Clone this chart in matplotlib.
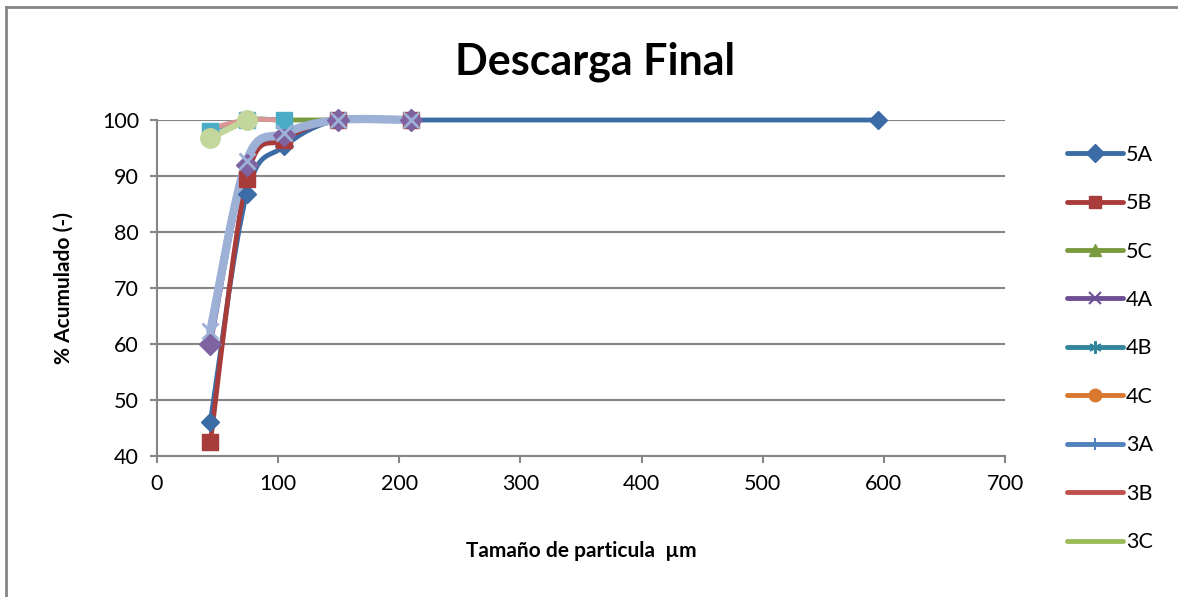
import matplotlib
matplotlib.use("Agg")
import matplotlib.pyplot as plt
from matplotlib.path import Path
from matplotlib.patches import PathPatch
from matplotlib.lines import Line2D

plt.rcParams['font.family'] = ['Lato', 'DejaVu Sans']

tamano = [44, 74, 105, 149, 210, 595]

s5A = [46, 86.8, 95.3, 100, 100, 100]
s5B = [42.5, 89.5, 96.5, 100, 100]
s5C = [97.8, 100, 100, 100]
s4A = [60, 92, 97.3, 100, 100]
s4B = [98, 100, 100]
s4C = [97, 100]
s3A = [62.3, 92.7, 97.6, 100, 100]
s3B = [98.5, 100, 100]
s3C = [96.8, 100]

nombres = ['5A', '5B', '5C', '4A', '4B', '4C', '3A', '3B', '3C']
series = [s5A, s5B, s5C, s4A, s4B, s4C, s3A, s3B, s3C]
colores = ['#3C6CA6', '#A83C3A', '#7A9A3E', '#6E4E94', '#31869C', '#D9782F',
           '#4F81BD', '#C0504D', '#9BBB59']
# color en el grafico (algunas series usan tonos mas claros)
col_plot = ['#3C6CA6', '#A83C3A', '#7A9A3E', '#7F63A1', '#4BACC6', '#F79646',
            '#9DB0D6', '#D99694', '#C3D69B']
mark_plot = ['D', 's', '^', 'D', 's', 'o', 'x', None, 'o']
mark_leg = ['D', 's', '^', 'x', (6, 2, 0), 'o', '|', None, None]
anchos = [3.5, 3.5, 3.5, 3.5, 3.5, 3.5, 6.0, 3.5, 4.5]
tam_m = [9, 11, 9, 11, 11, 12, 11, 0, 14]


def curva(xs, ys):
    # curva suave tipo Excel (Catmull-Rom a Bezier)
    pts = list(zip(xs, ys))
    verts = [pts[0]]
    codes = [Path.MOVETO]
    n = len(pts)
    for i in range(n - 1):
        p0 = pts[i - 1] if i > 0 else pts[i]
        p1 = pts[i]
        p2 = pts[i + 1]
        p3 = pts[i + 2] if i + 2 < n else pts[i + 1]
        c1 = (p1[0] + (p2[0] - p0[0]) / 6, p1[1] + (p2[1] - p0[1]) / 6)
        c2 = (p2[0] - (p3[0] - p1[0]) / 6, p2[1] - (p3[1] - p1[1]) / 6)
        verts += [c1, c2, p2]
        codes += [Path.CURVE4] * 3
    return Path(verts, codes)


fig = plt.figure(figsize=(11.78, 5.97), dpi=100)
ax = fig.add_axes([0.1333, 0.236, 0.7199, 0.563])

ax.yaxis.grid(True, color='#868686', linewidth=1.5)
ax.set_axisbelow(True)

for k in range(len(series)):
    xs = tamano[:len(series[k])]
    ys = series[k]
    ax.add_patch(PathPatch(curva(xs, ys), facecolor='none',
                           edgecolor=col_plot[k], linewidth=anchos[k],
                           capstyle='round', joinstyle='round', zorder=3,
                           clip_on=False))
    if mark_plot[k] is not None:
        ax.plot(xs, ys, linestyle='none', marker=mark_plot[k],
                markersize=tam_m[k], color=col_plot[k], clip_on=False,
                markeredgewidth=2 if mark_plot[k] == 'x' else 1, zorder=4)

ax.set_xlim(0, 700)
ax.set_ylim(40, 100)
ax.set_xticks(range(0, 701, 100))
ax.set_yticks(range(40, 101, 10))
ax.tick_params(labelsize=15.5, color='#868686', length=5, width=1.5, pad=8)
for lado in ['top', 'right']:
    ax.spines[lado].set_visible(False)
for lado in ['left', 'bottom']:
    ax.spines[lado].set_color('#868686')
    ax.spines[lado].set_linewidth(1.5)

fig.text(0.505, 0.897, 'Descarga Final', fontsize=31, fontweight='bold',
         ha='center', va='center')
ax.set_xlabel('Tamaño de particula  µm', fontsize=15, fontweight='bold', labelpad=34)
ax.set_ylabel('% Acumulado (-)', fontsize=15, fontweight='bold', labelpad=20)

handles = []
for k in range(len(nombres)):
    handles.append(Line2D([], [], color=colores[k], linewidth=3.5,
                          marker=mark_leg[k], markersize=9 if k != 3 else 8,
                          markeredgewidth=1.5 if k in (3, 4, 6) else 1,
                          solid_capstyle='round'))
fig.legend(handles, nombres, loc='upper left', bbox_to_anchor=(0.889, 0.79),
           frameon=False, fontsize=15.5, handlelength=2.6, labelspacing=1.32,
           handletextpad=0.15)

# borde del area del grafico
fig.add_artist(Line2D([0.005, 0.005], [0, 0.988], transform=fig.transFigure,
                      color='#868686', linewidth=2))
fig.add_artist(Line2D([0.005, 1.0], [0.988, 0.988], transform=fig.transFigure,
                      color='#868686', linewidth=2))

fig.savefig('out.png', dpi=100)
